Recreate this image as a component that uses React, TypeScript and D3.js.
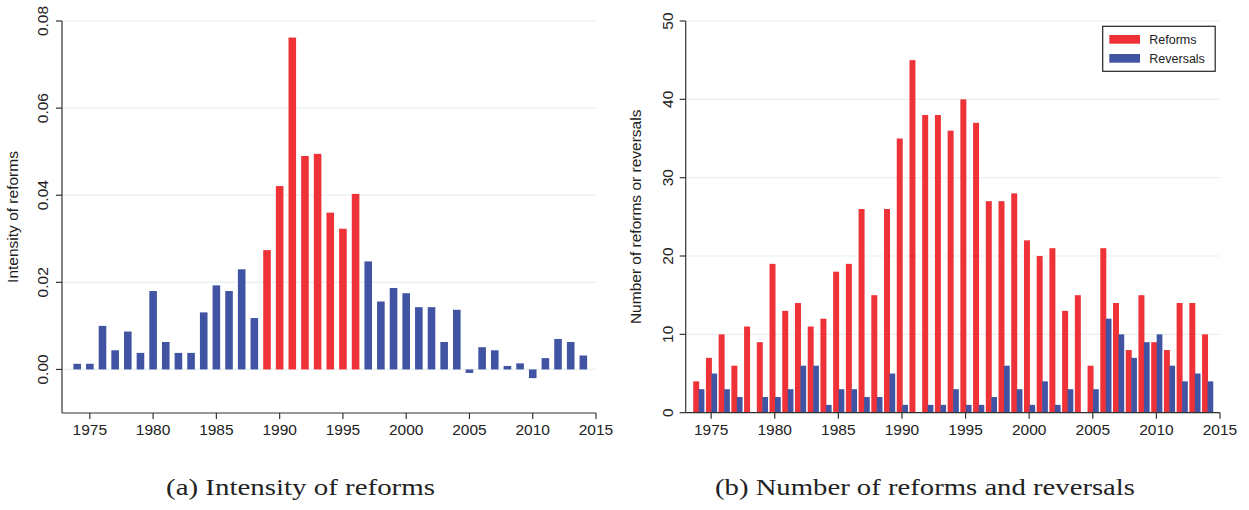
import React from "react";
import * as d3 from "d3";

const years: number[] = d3.range(1974, 2015);
const intensity: number[] = [
  0.0013, 0.0013, 0.010, 0.0044, 0.0087, 0.0038, 0.018, 0.0063, 0.0038, 0.0038,
  0.0131, 0.0193, 0.018, 0.023, 0.0118, 0.0274, 0.0421, 0.0762, 0.049, 0.0495,
  0.036, 0.0323, 0.0403, 0.0248, 0.0156, 0.0187, 0.0175, 0.0143, 0.0143, 0.0063,
  0.0137, -0.0008, 0.0051, 0.0044, 0.0008, 0.0014, -0.002, 0.0026, 0.007, 0.0063,
  0.0032,
];
const reformYears: number[] = [1989, 1990, 1991, 1992, 1993, 1994, 1995, 1996];
const reforms: number[] = [
  4, 7, 10, 6, 11, 9, 19, 13, 14, 11, 12, 18, 19, 26, 15, 26, 35, 45, 38, 38,
  36, 40, 37, 27, 27, 28, 22, 20, 21, 13, 15, 6, 21, 14, 8, 15, 9, 8, 14, 14, 10,
];
const reversals: number[] = [
  3, 5, 3, 2, 0, 2, 2, 3, 6, 6, 1, 3, 3, 2, 2, 5, 1, 0, 1, 1,
  3, 1, 1, 2, 6, 3, 1, 4, 1, 3, 0, 3, 12, 10, 7, 9, 10, 6, 4, 5, 4,
];
const xTicks: number[] = [1975, 1980, 1985, 1990, 1995, 2000, 2005, 2010, 2015];
const yTicksL: number[] = [0, 0.02, 0.04, 0.06, 0.08];
const yTicksR: number[] = [0, 10, 20, 30, 40, 50];
const legendLabels: string[] = ["Reforms", "Reversals"];

const RED = "#EE3237";
const BLUE = "#4154A3";
const GRID = "#E6F0F0";
const AXIS = "#333";
const FONT = "'Liberation Sans', Arial, sans-serif";
const FS = 15.5;

export default function App() {
  const xL = d3.scaleLinear().domain([1972.8, 2015]).range([62, 596]);
  const yL = d3.scaleLinear().domain([-0.01, 0.08]).range([413, 21]);
  const xR = d3.scaleLinear().domain([1973, 2015]).range([685.7, 1220]);
  const yR = d3.scaleLinear().domain([0, 50]).range([412.7, 21]);
  const fmt = d3.format(".2f");
  const bwL = xL(1975.6) - xL(1975);

  return (
    <svg width={1249} height={510} style={{ position: "absolute", left: 0, top: 0, background: "#fff" }}>
      {/* Left panel */}
      <g>
        {yTicksL.map((t) => (
          <line key={"gl" + t} x1={xL.range()[0]} x2={xL.range()[1]} y1={yL(t)} y2={yL(t)} stroke={GRID} strokeWidth={1.2} />
        ))}
        {years.map((yr, i) => {
          const v = intensity[i];
          const y0 = yL(0);
          const y1 = yL(v);
          return (
            <rect
              key={"bl" + yr}
              x={xL(yr) - bwL / 2}
              width={bwL}
              y={Math.min(y0, y1)}
              height={Math.abs(y1 - y0)}
              fill={reformYears.includes(yr) ? RED : BLUE}
            />
          );
        })}
        <line x1={xL.range()[0]} x2={xL.range()[0]} y1={yL.range()[1]} y2={yL.range()[0]} stroke={AXIS} strokeWidth={1.2} />
        <line x1={xL.range()[0]} x2={xL.range()[1]} y1={yL.range()[0]} y2={yL.range()[0]} stroke={AXIS} strokeWidth={1.2} />
        {yTicksL.map((t) => (
          <g key={"tl" + t}>
            <line x1={xL.range()[0] - 6} x2={xL.range()[0]} y1={yL(t)} y2={yL(t)} stroke={AXIS} strokeWidth={1.2} />
            <text
              transform={`translate(48,${yL(t)}) rotate(-90)`}
              textAnchor="middle"
              fontFamily={FONT}
              fontSize={FS}
              fill="#222"
            >
              {fmt(t)}
            </text>
          </g>
        ))}
        {xTicks.map((t) => (
          <g key={"xl" + t}>
            <line x1={xL(t)} x2={xL(t)} y1={yL.range()[0]} y2={yL.range()[0] + 6} stroke={AXIS} strokeWidth={1.2} />
            <text x={xL(t)} y={435} textAnchor="middle" fontFamily={FONT} fontSize={FS} fill="#222">
              {t}
            </text>
          </g>
        ))}
        <text
          transform={`translate(18,${(yL.range()[0] + yL.range()[1]) / 2}) rotate(-90)`}
          textAnchor="middle"
          fontFamily={FONT}
          fontSize={FS}
          fill="#222"
        >
          Intensity of reforms
        </text>
        <text x={300.5} y={495} textAnchor="middle" fontFamily="'Liberation Serif', 'DejaVu Serif', serif" fontSize={22.5} fill="#222" textLength={269} lengthAdjust="spacingAndGlyphs">
          (a) Intensity of reforms
        </text>
      </g>

      {/* Right panel */}
      <g>
        {yTicksR.map((t) => (
          <line key={"gr" + t} x1={xR.range()[0]} x2={xR.range()[1]} y1={yR(t)} y2={yR(t)} stroke={GRID} strokeWidth={1.2} />
        ))}
        {years.map((yr, i) => (
          <rect
            key={"rr" + yr}
            x={xR(yr - 0.41)}
            width={xR(yr + 0.06) - xR(yr - 0.41)}
            y={yR(reforms[i])}
            height={yR(0) - yR(reforms[i])}
            fill={RED}
          />
        ))}
        {years.map((yr, i) => (
          <rect
            key={"rv" + yr}
            x={xR(yr + 0.02)}
            width={xR(yr + 0.47) - xR(yr + 0.02)}
            y={yR(reversals[i])}
            height={yR(0) - yR(reversals[i])}
            fill={BLUE}
          />
        ))}
        <line x1={xR.range()[0]} x2={xR.range()[0]} y1={yR.range()[1]} y2={yR.range()[0]} stroke={AXIS} strokeWidth={1.2} />
        <line x1={xR.range()[0]} x2={xR.range()[1]} y1={yR.range()[0]} y2={yR.range()[0]} stroke={AXIS} strokeWidth={1.2} />
        {yTicksR.map((t) => (
          <g key={"tr" + t}>
            <line x1={xR.range()[0] - 6} x2={xR.range()[0]} y1={yR(t)} y2={yR(t)} stroke={AXIS} strokeWidth={1.2} />
            <text
              transform={`translate(673,${yR(t)}) rotate(-90)`}
              textAnchor="middle"
              fontFamily={FONT}
              fontSize={FS}
              fill="#222"
            >
              {t}
            </text>
          </g>
        ))}
        {xTicks.map((t) => (
          <g key={"xr" + t}>
            <line x1={xR(t)} x2={xR(t)} y1={yR.range()[0]} y2={yR.range()[0] + 6} stroke={AXIS} strokeWidth={1.2} />
            <text x={xR(t)} y={435} textAnchor="middle" fontFamily={FONT} fontSize={FS} fill="#222">
              {t}
            </text>
          </g>
        ))}
        <text
          transform={`translate(641,${(yR.range()[0] + yR.range()[1]) / 2}) rotate(-90)`}
          textAnchor="middle"
          fontFamily={FONT}
          fontSize={FS}
          fill="#222"
        >
          Number of reforms or reversals
        </text>
        {/* Legend */}
        <rect x={1102.7} y={26.3} width={112.5} height={45} fill="#fff" stroke="#222" strokeWidth={1.2} />
        {legendLabels.map((lab, i) => (
          <g key={lab}>
            <rect x={1109.3} y={35 + i * 19} width={30.7} height={8.7} fill={i === 0 ? RED : BLUE} />
            <text x={1149.3} y={44 + i * 19} fontFamily={FONT} fontSize={12.5} fill="#222">
              {lab}
            </text>
          </g>
        ))}
        <text x={925} y={495} textAnchor="middle" fontFamily="'Liberation Serif', 'DejaVu Serif', serif" fontSize={22.5} fill="#222" textLength={420} lengthAdjust="spacingAndGlyphs">
          (b) Number of reforms and reversals
        </text>
      </g>
    </svg>
  );
}
